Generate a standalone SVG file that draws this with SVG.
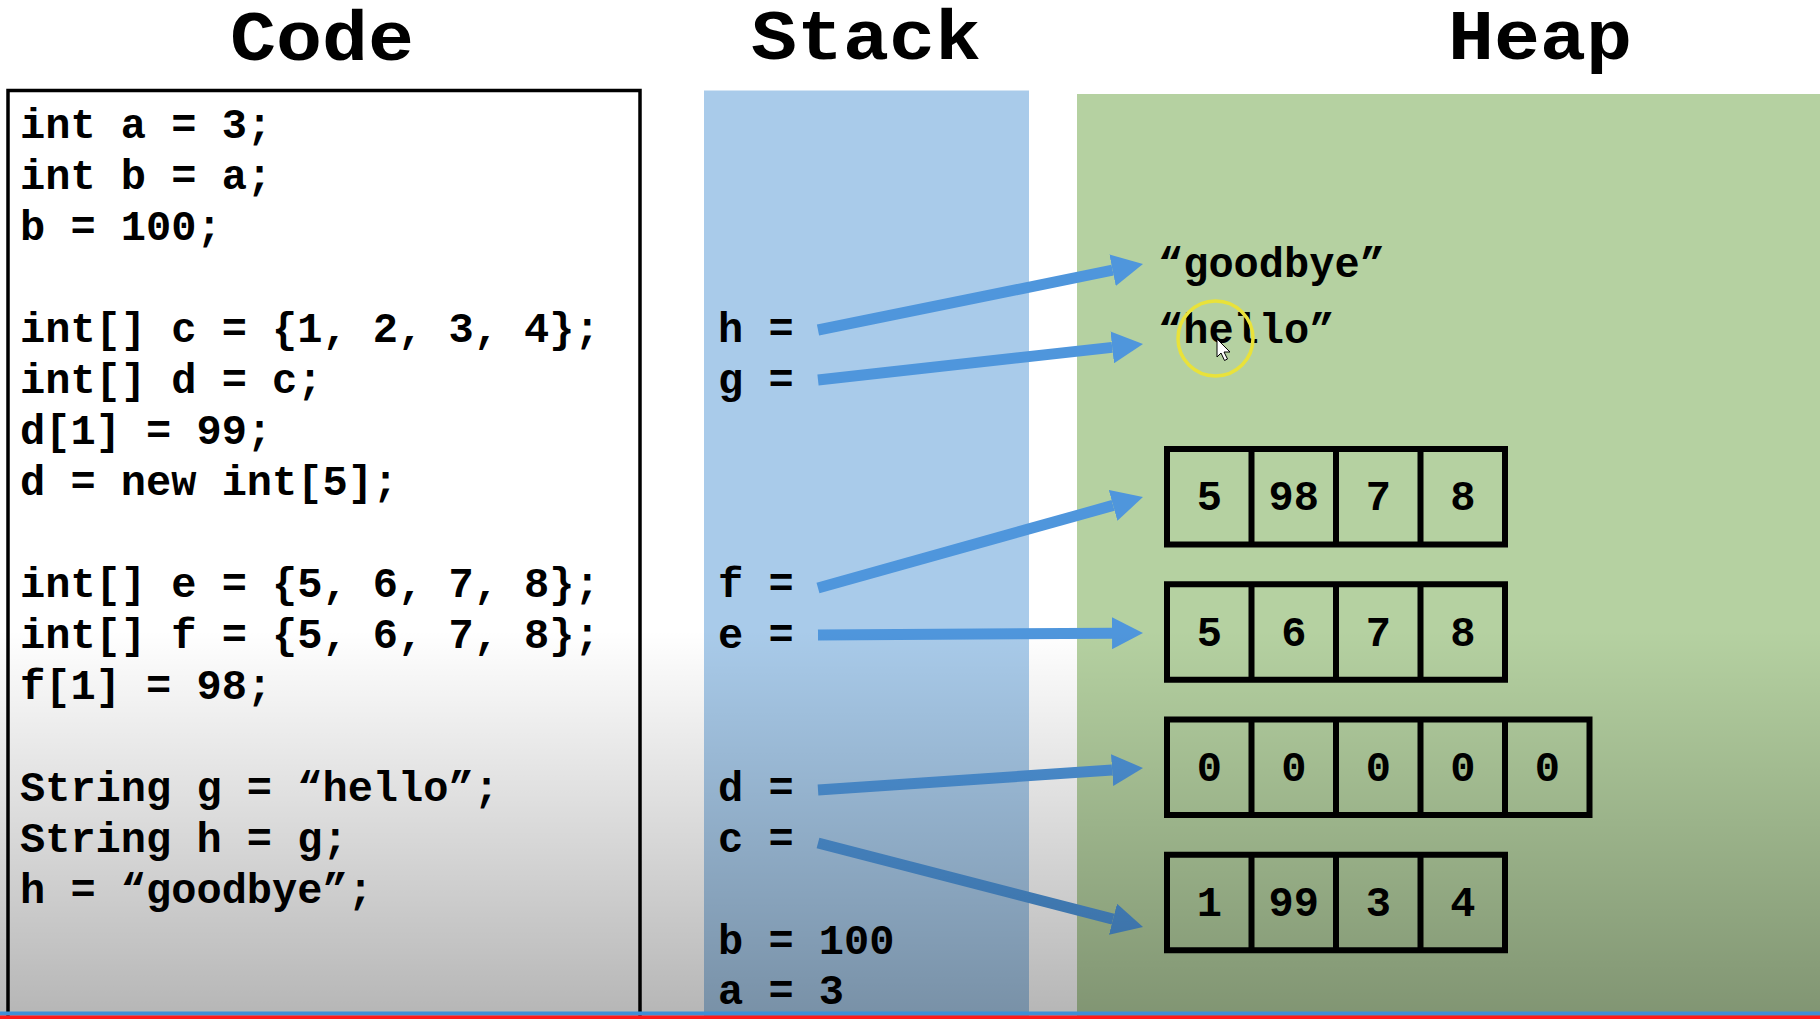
<svg xmlns="http://www.w3.org/2000/svg" width="1820" height="1019" viewBox="0 0 1820 1019">
<style>
.title{font-family:"Liberation Mono","Courier New",monospace;font-weight:bold;font-size:70px;fill:#000;text-anchor:middle}
.code{font-family:"Liberation Mono","Courier New",monospace;font-weight:bold;font-size:42px;fill:#000}
.cell{font-family:"Liberation Mono","Courier New",monospace;font-weight:bold;font-size:42px;fill:#000;text-anchor:middle}
.arr{fill:none;stroke:#000;stroke-width:6}
.link{stroke:#4f96dc;stroke-width:11;fill:none}
</style>
<defs>
<marker id="head" markerUnits="userSpaceOnUse" markerWidth="31" markerHeight="32" refX="0" refY="16" orient="auto">
<path d="M0,0 L31,16 L0,32 Z" fill="#4f96dc"/>
</marker>
<linearGradient id="shade" gradientUnits="userSpaceOnUse" x1="0" y1="630" x2="0" y2="1019">
<stop offset="0" stop-color="#000" stop-opacity="0"/>
<stop offset="1" stop-color="#000" stop-opacity="0.29"/>
</linearGradient>
</defs>
<rect x="0" y="0" width="1820" height="1019" fill="#ffffff"/>

<g id="titles">
<text class="title" x="322" y="60" textLength="184" lengthAdjust="spacingAndGlyphs">Code</text>
<text class="title" x="866" y="59" textLength="230" lengthAdjust="spacingAndGlyphs">Stack</text>
<text class="title" x="1540" y="59" textLength="184" lengthAdjust="spacingAndGlyphs">Heap</text>
</g>

<g id="code">
<rect x="8" y="90.5" width="632" height="960" fill="#ffffff" stroke="#000" stroke-width="3.5"/>
<text class="code" x="20" y="138">int a = 3;</text>
<text class="code" x="20" y="189">int b = a;</text>
<text class="code" x="20" y="240">b = 100;</text>
<text class="code" x="20" y="342">int[] c = {1, 2, 3, 4};</text>
<text class="code" x="20" y="393">int[] d = c;</text>
<text class="code" x="20" y="444">d[1] = 99;</text>
<text class="code" x="20" y="495">d = new int[5];</text>
<text class="code" x="20" y="597">int[] e = {5, 6, 7, 8};</text>
<text class="code" x="20" y="648">int[] f = {5, 6, 7, 8};</text>
<text class="code" x="20" y="699">f[1] = 98;</text>
<text class="code" x="20" y="801">String g = “hello”;</text>
<text class="code" x="20" y="852">String h = g;</text>
<text class="code" x="20" y="903">h = “goodbye”;</text>
</g>

<g id="stack">
<rect x="704" y="90.5" width="325" height="960" fill="#a9cbea"/>
<text class="code" x="718" y="342">h =</text>
<text class="code" x="718" y="393">g =</text>
<text class="code" x="718" y="597">f =</text>
<text class="code" x="718" y="648">e =</text>
<text class="code" x="718" y="801">d =</text>
<text class="code" x="718" y="852">c =</text>
<text class="code" x="718" y="954">b = 100</text>
<text class="code" x="718" y="1004">a = 3</text>
</g>

<g id="heap">
<rect x="1077" y="94" width="743" height="960" fill="#b5d1a1"/>
</g>

<g id="str-goodbye">
<text class="code" x="1158" y="277">“goodbye”</text>
</g>
<g id="str-hello">
<text class="code" x="1158" y="343">“hello”</text>
</g>

<g id="array-f">
<rect class="arr" x="1167" y="449" width="338" height="95.5"/>
<path class="arr" d="M1251.5,449 V544.5 M1336,449 V544.5 M1420.5,449 V544.5"/>
<text class="cell" x="1209.25" y="510">5</text>
<text class="cell" x="1293.75" y="510">98</text>
<text class="cell" x="1378.25" y="510">7</text>
<text class="cell" x="1462.75" y="510">8</text>
</g>

<g id="array-e">
<rect class="arr" x="1167" y="584.25" width="338" height="95.5"/>
<path class="arr" d="M1251.5,584.25 V679.75 M1336,584.25 V679.75 M1420.5,584.25 V679.75"/>
<text class="cell" x="1209.25" y="645.5">5</text>
<text class="cell" x="1293.75" y="645.5">6</text>
<text class="cell" x="1378.25" y="645.5">7</text>
<text class="cell" x="1462.75" y="645.5">8</text>
</g>

<g id="array-d">
<rect class="arr" x="1167" y="719.5" width="422.5" height="95.5"/>
<path class="arr" d="M1251.5,719.5 V815 M1336,719.5 V815 M1420.5,719.5 V815 M1505,719.5 V815"/>
<text class="cell" x="1209.25" y="780.5">0</text>
<text class="cell" x="1293.75" y="780.5">0</text>
<text class="cell" x="1378.25" y="780.5">0</text>
<text class="cell" x="1462.75" y="780.5">0</text>
<text class="cell" x="1547.25" y="780.5">0</text>
</g>

<g id="array-c">
<rect class="arr" x="1167" y="854.75" width="338" height="95.5"/>
<path class="arr" d="M1251.5,854.75 V950.25 M1336,854.75 V950.25 M1420.5,854.75 V950.25"/>
<text class="cell" x="1209.25" y="916">1</text>
<text class="cell" x="1293.75" y="916">99</text>
<text class="cell" x="1378.25" y="916">3</text>
<text class="cell" x="1462.75" y="916">4</text>
</g>

<g id="connectors">
<line class="link" x1="818" y1="330" x2="1112.6" y2="270.2" marker-end="url(#head)"/>
<line class="link" x1="818" y1="380" x2="1112.2" y2="347.4" marker-end="url(#head)"/>
<line class="link" x1="818" y1="588" x2="1113.1" y2="505.4" marker-end="url(#head)"/>
<line class="link" x1="818" y1="635" x2="1112" y2="633.2" marker-end="url(#head)"/>
<line class="link" x1="818" y1="790" x2="1112.1" y2="770.1" marker-end="url(#head)"/>
<line class="link" x1="818" y1="843" x2="1113" y2="919.2" marker-end="url(#head)"/>
</g>

<g id="cursor">
<circle cx="1215.5" cy="338.5" r="37.5" fill="none" stroke="#e9e23a" stroke-width="3.5"/>
<path d="M1217,339 L1217,357 L1221,353 L1224.5,360.5 L1227.5,359 L1224,352 L1230,352 Z" fill="#ffffff" stroke="#000" stroke-width="1"/>
</g>

<rect x="0" y="630" width="1820" height="389" fill="url(#shade)"/>

<g id="progress">
<rect x="0" y="1011.5" width="1820" height="4" fill="#3f8fd6"/>
<rect x="0" y="1015.5" width="1820" height="3.5" fill="#ff1a1a"/>
</g>
</svg>
